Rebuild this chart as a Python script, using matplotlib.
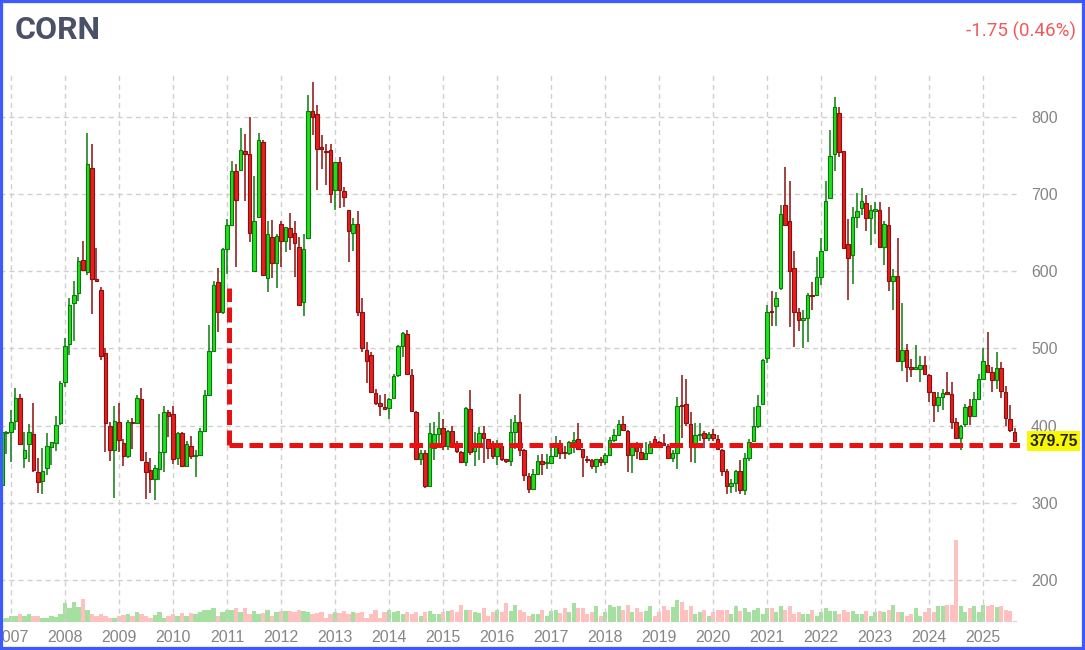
import numpy as np
import matplotlib.pyplot as plt
from matplotlib.patches import Rectangle

# monthly corn candles, first candle is Nov 2006, last is Aug 2025
opens = [
    323, 390,
    391, 406, 436, 358, 376, 389, 340, 328, 345, 372, 377, 403,
    457, 506, 559, 572, 615, 599, 734, 590, 576, 494, 399, 368,
    404, 377, 361, 404, 403, 435, 353, 342, 331, 343, 366, 418,
    415, 358, 390, 348, 374, 360, 362, 393, 440, 497, 586, 547,
    629, 660, 730, 732, 757, 752, 601, 671, 768, 591, 645, 611,
    662, 640, 656, 650, 632, 560, 644, 808, 804, 762, 757, 758,
    706, 742, 705, 680, 650, 662, 547, 498, 491, 442, 429, 423,
    423, 436, 465, 503, 519, 466, 418, 357, 364, 322, 371, 389,
    397, 373, 393, 377, 366, 353, 421, 367, 374, 390, 382, 372,
    361, 373, 356, 354, 391, 405, 368, 334, 317, 337, 354, 351,
    352, 360, 375, 366, 365, 378, 382, 369, 357, 355, 348, 356,
    353, 362, 381, 388, 402, 393, 362, 373, 366, 357, 364, 383,
    378, 377, 374, 358, 364, 427, 428, 402, 372, 388, 390, 384,
    389, 382, 368, 341, 321, 325, 341, 316, 358, 380, 399, 428,
    488, 549, 555, 578, 686, 666, 605, 547, 537, 539, 569, 569,
    593, 628, 695, 752, 806, 756, 635, 622, 671, 683, 689, 669,
    679, 680, 632, 660, 587, 594, 484, 498, 475, 474, 474, 478,
    466, 443, 427, 437, 443, 441, 405, 384, 402, 425, 413, 435,
    460, 478, 469, 459, 475, 444, 409, 392,
]
highs = [
    392, 393,
    420, 449, 441, 392, 402, 429, 358, 371, 390, 379, 412, 458,
    513, 566, 588, 619, 639, 780, 765, 630, 580, 500, 405, 425,
    429, 383, 407, 410, 439, 449, 366, 358, 349, 415, 425, 420,
    425, 392, 391, 380, 386, 368, 397, 446, 531, 587, 605, 631,
    668, 744, 740, 786, 778, 800, 724, 780, 770, 666, 667, 648,
    665, 658, 676, 666, 645, 649, 829, 846, 816, 777, 765, 765,
    742, 748, 710, 680, 670, 678, 565, 509, 495, 448, 439, 441,
    436, 467, 505, 522, 524, 473, 419, 368, 368, 403, 405, 417,
    409, 394, 400, 380, 367, 424, 446, 392, 398, 400, 383, 380,
    381, 374, 357, 408, 414, 441, 370, 338, 343, 362, 363, 363,
    373, 386, 381, 373, 380, 391, 403, 370, 361, 357, 357, 359,
    364, 385, 395, 407, 413, 394, 377, 379, 371, 379, 380, 386,
    380, 389, 376, 368, 437, 466, 461, 418, 403, 403, 393, 392,
    395, 388, 370, 344, 330, 342, 355, 364, 383, 424, 440, 487,
    556, 574, 573, 686, 736, 718, 627, 553, 550, 572, 586, 619,
    643, 717, 783, 826, 814, 757, 668, 684, 702, 708, 699, 686,
    690, 690, 666, 684, 603, 643, 559, 506, 486, 505, 490, 490,
    467, 444, 443, 448, 469, 456, 410, 401, 428, 435, 443, 467,
    500, 521, 476, 495, 482, 451, 427, 397,
]
lows = [
    320, 363,
    353, 394, 375, 345, 353, 340, 312, 311, 336, 349, 367, 401,
    450, 492, 510, 562, 600, 596, 545, 587, 485, 366, 354, 306,
    366, 348, 358, 370, 402, 354, 305, 312, 303, 329, 340, 385,
    350, 349, 347, 347, 356, 333, 360, 392, 439, 496, 521, 545,
    597, 659, 606, 730, 691, 638, 600, 670, 595, 573, 591, 578,
    606, 625, 628, 593, 556, 542, 643, 777, 706, 733, 712, 689,
    680, 682, 684, 612, 627, 542, 496, 455, 443, 427, 412, 420,
    408, 435, 463, 489, 466, 418, 357, 349, 319, 321, 355, 371,
    368, 368, 371, 364, 351, 348, 362, 347, 355, 352, 357, 357,
    349, 354, 352, 348, 370, 361, 328, 313, 316, 336, 336, 343,
    350, 359, 356, 357, 362, 364, 368, 333, 352, 343, 338, 347,
    349, 360, 379, 388, 393, 340, 338, 357, 356, 356, 363, 374,
    374, 374, 357, 353, 343, 384, 400, 353, 352, 380, 371, 380,
    380, 368, 334, 311, 313, 314, 311, 310, 354, 379, 397, 427,
    481, 529, 529, 576, 659, 528, 502, 523, 500, 509, 550, 568,
    583, 627, 694, 731, 749, 629, 563, 584, 657, 673, 653, 634,
    648, 631, 608, 574, 550, 483, 471, 457, 463, 474, 457, 466,
    431, 405, 418, 420, 440, 396, 383, 368, 398, 401, 411, 434,
    459, 468, 443, 448, 436, 399, 391, 379,
]
closes = [
    391, 392,
    405, 436, 376, 368, 391, 342, 327, 341, 374, 378, 401, 455,
    503, 557, 569, 613, 602, 739, 590, 588, 490, 403, 368, 406,
    381, 361, 405, 403, 436, 355, 340, 331, 345, 366, 418, 412,
    357, 390, 348, 376, 360, 362, 393, 440, 497, 583, 547, 629,
    660, 730, 693, 758, 752, 650, 666, 770, 596, 648, 611, 646,
    640, 658, 645, 637, 557, 629, 808, 801, 759, 759, 755, 700,
    742, 706, 696, 652, 662, 548, 500, 484, 443, 429, 426, 422,
    435, 464, 503, 520, 467, 419, 357, 364, 322, 390, 389, 397,
    373, 393, 377, 367, 353, 423, 366, 375, 390, 384, 371, 360,
    373, 357, 354, 391, 405, 368, 336, 317, 337, 354, 350, 352,
    360, 375, 365, 364, 378, 381, 370, 359, 355, 348, 356, 353,
    362, 381, 388, 402, 394, 362, 373, 367, 357, 364, 376, 376,
    376, 375, 358, 364, 426, 425, 403, 372, 388, 389, 384, 389,
    384, 369, 341, 321, 325, 341, 316, 358, 379, 399, 426, 485,
    547, 547, 565, 674, 660, 601, 548, 537, 539, 569, 568, 593,
    627, 692, 750, 814, 755, 630, 618, 671, 678, 692, 669, 680,
    681, 632, 661, 588, 594, 484, 498, 476, 474, 476, 479, 467,
    444, 427, 437, 442, 441, 404, 384, 400, 424, 413, 435, 461,
    484, 470, 459, 475, 445, 410, 394, 379.75,
]
# volume, thousand contracts
volumes = [
    140, 225,
    295, 295, 380, 310, 380, 310, 310, 225, 225, 310, 240, 380,
    950, 705, 1000, 760, 1155, 620, 380, 295, 380, 295, 205, 225,
    295, 345, 380, 295, 485, 395, 310, 225, 330, 485, 205, 310,
    380, 310, 450, 310, 465, 395, 515, 620, 620, 690, 310, 500,
    620, 620, 690, 485, 690, 380, 535, 380, 450, 620, 295, 485,
    535, 535, 535, 485, 620, 550, 485, 380, 430, 485, 225, 395,
    485, 450, 535, 380, 485, 450, 485, 225, 380, 620, 225, 485,
    620, 515, 535, 380, 515, 380, 485, 295, 485, 535, 380, 380,
    485, 535, 620, 485, 845, 620, 620, 485, 450, 690, 310, 485,
    620, 485, 930, 535, 845, 620, 485, 310, 380, 380, 625, 280,
    575, 625, 450, 695, 485, 940, 695, 695, 400, 485, 780, 315,
    485, 850, 730, 780, 625, 850, 520, 695, 485, 575, 780, 315,
    485, 780, 625, 765, 1095, 1010, 625, 780, 400, 485, 625, 315,
    485, 625, 625, 625, 400, 780, 540, 695, 520, 625, 695, 400,
    695, 695, 485, 780, 625, 780, 400, 520, 380, 380, 625, 315,
    485, 695, 540, 540, 400, 625, 485, 540, 400, 400, 540, 280,
    485, 540, 520, 625, 850, 520, 520, 280, 400, 695, 280, 520,
    695, 485, 780, 780, 850, 850, 4085, 780, 485, 695, 780, 520,
    850, 780, 850, 730, 780, 625, 575, 50,
]
years = list(range(2007, 2026))
price_ticks = [200, 300, 400, 500, 600, 700, 800]

# support line drawn on the chart (month index 48 = Jan 2011)
support_level = 375
support_start = 48.5
support_top = 578

o = np.array(opens, float)
h = np.array(highs, float)
l = np.array(lows, float)
c = np.array(closes, float)
x = np.arange(len(c)) - 2   # 0 = Jan 2007
up = c >= o

fig = plt.figure(figsize=(10.85, 6.5), dpi=100)
ax = fig.add_axes([0, 28 / 650, 1020 / 1085, 547 / 650])
axv = ax.twinx()
ax.set_zorder(axv.get_zorder() + 1)
ax.patch.set_visible(False)

# volume at the bottom
vcol = np.where(up, '#a6e0a0', '#ffc0c0')
axv.bar(x, volumes, width=0.9, color=vcol, zorder=1)
axv.set_ylim(0, 27350)
axv.axis('off')

# candles
wick = np.where(up, '#0b7a0b', '#8a1010')
body = np.where(up, '#1fe01f', '#ee1c1c')
ax.vlines(x, l, h, colors=wick, lw=1.1, zorder=2)
ax.bar(x, np.maximum(np.abs(c - o), 1.5), bottom=np.minimum(o, c), width=0.78,
       color=body, edgecolor=wick, lw=0.8, zorder=3)

ax.set_xlim(-2.44, 224.2)
ax.set_ylim(145, 855)

# red dashed support
ax.plot([support_start, support_start], [support_level, support_top], color='#e81010',
        lw=3.6, dashes=(3, 1.1), zorder=4, solid_capstyle='butt')
ax.plot([support_start, ax.get_xlim()[1]], [support_level, support_level], color='#e81010',
        lw=3.6, dashes=(2.7, 1.3), zorder=4)

ax.set_xticks([12 * i for i in range(len(years))])
ax.set_xticklabels([str(y) for y in years])
ax.set_yticks(price_ticks)
ax.yaxis.tick_right()
ax.tick_params(axis='both', length=0, labelsize=11.4, labelcolor='#858585')
ax.tick_params(axis='x', pad=6)
ax.tick_params(axis='y', pad=8)
for t in ax.get_xticklabels() + ax.get_yticklabels():
    t.set_family('Liberation Sans')
ax.grid(True, color='#d0d0d0', lw=1.0, linestyle=(0, (3.6, 2.9)), zorder=0)
ax.set_axisbelow(True)
for s in ax.spines.values():
    s.set_visible(False)

# last price tag
ax.text(1.009, closes[-1], f'{closes[-1]:.2f}', transform=ax.get_yaxis_transform(),
        va='center', ha='left', fontsize=11.3, fontweight='bold', color='#222222',
        family='Liberation Sans',
        bbox=dict(boxstyle='square,pad=0.15', fc='#f8f800', ec='none'))

fig.text(15 / 1085, 1 - 30 / 650, 'CORN', fontsize=23, fontweight='bold',
         color='#4a5068', va='center', ha='left', family='Roboto')
fig.text(1076 / 1085, 1 - 31 / 650, '-1.75 (0.46%)', fontsize=13.5, color='#f05a5a',
         va='center', ha='right', family='Roboto')

fig.patches.append(Rectangle((0, 0), 1, 1, transform=fig.transFigure, fill=False,
                             ec='#3d5afe', lw=4.5))

fig.savefig('out.png', dpi=100)
